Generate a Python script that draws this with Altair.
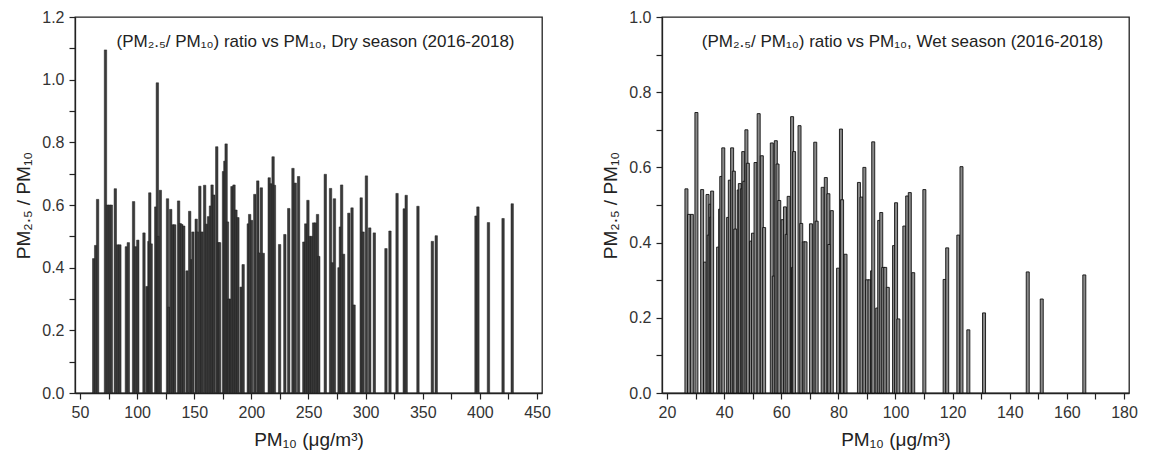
import altair as alt
import pandas as pd

# ---------------- Dry season (left) ----------------
dry_pm10 = [62.0, 63.7, 65.4, 72.3, 74.0, 75.7, 77.4, 80.9, 83.0, 84.9, 90.6, 92.3, 96.9, 98.6,
            100.6, 106.0, 108.6, 110.3, 111.1, 112.3, 116.3, 117.7, 118.6, 120.3, 126.6, 127.7,
            129.4, 131.4, 132.9, 136.3, 137.7, 139.1, 140.8, 143.7, 146.0, 147.7, 148.8, 151.7,
            152.8, 154.9, 156.8, 159.1, 160.8, 162.5, 164.2, 165.6, 167.1, 169.7, 171.1, 172.2,
            175.6, 176.8, 177.9, 179.1, 180.2, 181.9, 183.0, 184.8, 186.5, 188.2, 191.0, 192.8,
            197.3, 198.5, 200.2, 203.0, 205.6, 207.0, 208.7, 210.4, 215.6, 217.3, 219.0, 220.2,
            224.7, 229.3, 232.7, 236.4, 238.4, 241.3, 245.9, 247.6, 249.5, 251.2, 252.8, 254.5,
            256.2, 257.9, 259.0, 264.7, 269.3, 271.0, 272.7, 276.7, 277.9, 279.0, 280.7, 285.3,
            288.1, 289.9, 296.1, 297.8, 300.7, 303.6, 307.6, 317.8, 321.3, 327.5, 333.8, 335.5,
            345.8, 358.4, 361.8, 396.6, 398.3, 407.5, 420.3, 428.3]
dry_ratio = [0.429, 0.471, 0.618, 1.095, 0.600, 0.600, 0.600, 0.652, 0.473, 0.473, 0.467, 0.480,
             0.611, 0.467, 0.488, 0.511, 0.340, 0.484, 0.639, 0.476, 0.594, 0.990, 0.500, 0.647,
             0.620, 0.274, 0.586, 0.537, 0.537, 0.613, 0.541, 0.538, 0.533, 0.390, 0.580, 0.426,
             0.514, 0.555, 0.514, 0.660, 0.514, 0.663, 0.539, 0.563, 0.597, 0.664, 0.632, 0.786,
             0.480, 0.480, 0.707, 0.740, 0.795, 0.546, 0.300, 0.300, 0.659, 0.664, 0.584, 0.560,
             0.338, 0.410, 0.540, 0.570, 0.551, 0.634, 0.677, 0.447, 0.655, 0.446, 0.687, 0.668,
             0.754, 0.663, 0.474, 0.506, 0.589, 0.717, 0.670, 0.691, 0.482, 0.540, 0.615, 0.500,
             0.500, 0.543, 0.543, 0.570, 0.436, 0.698, 0.653, 0.416, 0.620, 0.400, 0.530, 0.664,
             0.443, 0.574, 0.591, 0.281, 0.623, 0.514, 0.693, 0.527, 0.511, 0.461, 0.517, 0.637,
             0.588, 0.631, 0.596, 0.484, 0.502, 0.565, 0.594, 0.544, 0.557, 0.604]

# ---------------- Wet season (right) ----------------
wet_pm10 = [26.8, 27.7, 28.7, 30.3, 32.3, 33.3, 34.2, 34.6, 35.2, 35.5, 35.8, 37.9, 38.6, 39.0,
            39.7, 41.4, 42.0, 42.8, 43.4, 43.9, 45.1, 45.5, 46.2, 46.7, 47.1, 47.8, 48.3, 49.4,
            50.1, 51.0, 52.1, 53.2, 54.0, 56.7, 57.4, 58.1, 58.7, 59.3, 60.5, 61.3, 61.9, 62.6,
            63.8, 64.1, 64.5, 66.4, 67.0, 67.9, 68.5, 70.4, 71.9, 72.4, 74.5, 75.6, 76.5, 76.8,
            77.7, 79.9, 80.9, 81.3, 82.5, 87.2, 88.1, 89.1, 90.0, 90.9, 91.8, 92.2, 93.6, 94.3,
            95.0, 95.7, 96.4, 97.3, 99.5, 100.2, 101.0, 103.1, 104.1, 105.0, 106.2, 110.1, 117.2,
            118.1, 122.0, 123.1, 125.5, 131.0, 146.3, 151.2, 166.1]
wet_ratio = [0.543, 0.475, 0.475, 0.746, 0.541, 0.348, 0.528, 0.420, 0.502, 0.468, 0.537, 0.388,
             0.489, 0.576, 0.652, 0.467, 0.566, 0.652, 0.590, 0.436, 0.540, 0.557, 0.543, 0.642,
             0.563, 0.700, 0.611, 0.404, 0.425, 0.613, 0.743, 0.631, 0.440, 0.665, 0.311, 0.671,
             0.609, 0.512, 0.461, 0.495, 0.422, 0.523, 0.735, 0.334, 0.642, 0.711, 0.451, 0.402,
             0.402, 0.450, 0.667, 0.457, 0.547, 0.573, 0.530, 0.395, 0.485, 0.332, 0.702, 0.514,
             0.369, 0.560, 0.521, 0.600, 0.301, 0.301, 0.325, 0.668, 0.226, 0.459, 0.480, 0.334,
             0.334, 0.281, 0.392, 0.506, 0.197, 0.444, 0.524, 0.533, 0.320, 0.541, 0.302, 0.386,
             0.420, 0.602, 0.168, 0.213, 0.322, 0.250, 0.314]

dry_title = "(PM₂.₅/ PM₁₀) ratio vs PM₁₀, Dry season (2016-2018)"
wet_title = "(PM₂.₅/ PM₁₀) ratio vs PM₁₀, Wet season (2016-2018)"
y_title = "PM₂.₅ / PM₁₀"
x_title = "PM₁₀ (μg/m³)"

FONT = "Liberation Sans"
W, H = 467, 376


def panel(xs, ys, xdom, xstep, ydom, title, fill, stroke, sw, size):
    df = pd.DataFrame({"pm10": xs, "ratio": ys})
    xticks = list(range(xdom[0], xdom[1] + 1, xstep))
    ny = int(round(ydom[1] * 10))
    yticks = [i / 10 for i in range(0, ny + 1)]
    bars = alt.Chart(df).mark_bar(size=size, fill=fill, stroke=stroke, strokeWidth=sw).encode(
        x=alt.X("pm10:Q", title=x_title,
                scale=alt.Scale(domain=xdom, nice=False, zero=False),
                axis=alt.Axis(values=xticks,
                              labelExpr=f"datum.value % {2 * xstep} == 0 ? datum.label : ''")),
        y=alt.Y("ratio:Q", title=y_title,
                scale=alt.Scale(domain=ydom, nice=False),
                axis=alt.Axis(values=yticks,
                              labelExpr="round(datum.value*10) % 2 == 0 ? format(datum.value, '.1f') : ''")),
    )
    txt = alt.Chart(pd.DataFrame({"t": [title]})).mark_text(
        font=FONT, fontSize=17, color="#222", align="center", baseline="middle"
    ).encode(text="t:N", x=alt.value(W / 2 + 7), y=alt.value(25))
    return alt.layer(bars, txt).properties(width=W, height=H)


left = panel(dry_pm10, dry_ratio, [50, 450], 25, [0, 1.2], dry_title,
             "#3a3a3a", "#1e1e1e", 0.5, 2.4)
right = panel(wet_pm10, wet_ratio, [20, 180], 10, [0, 1.0], wet_title,
              "#8a8a8a", "#111111", 0.9, 3.0)

chart = alt.hconcat(left, right, spacing=50).properties(
    padding={"left": 6, "top": 0, "right": 5, "bottom": 5}
).configure_view(
    stroke="#222", strokeWidth=1.3
).configure_axis(
    grid=False, labelFont=FONT, labelFontSize=16, labelColor="#333",
    titleFont=FONT, titleFontSize=19, titleFontWeight="normal", titleColor="#222",
    domainColor="#222", domainWidth=1.3, tickColor="#222", tickWidth=1.2, tickSize=6,
    labelFlush=False, labelOverlap=False, labelPadding=5,
).configure_axisX(titlePadding=10).configure_axisY(titlePadding=8)

chart.save("out.html", embed_options={"renderer": "svg", "actions": False})
